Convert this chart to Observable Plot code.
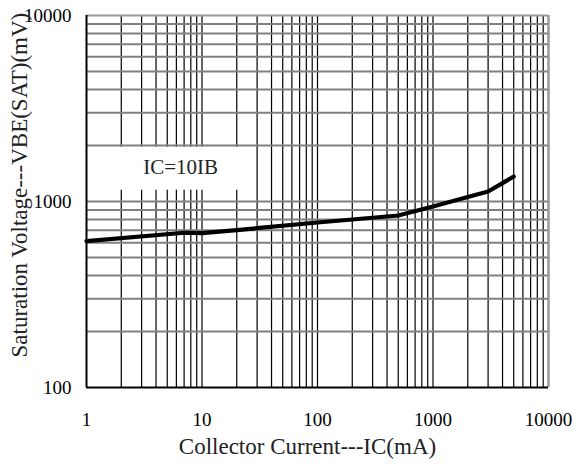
<!DOCTYPE html>
<html>
<head>
<meta charset="utf-8">
<script src="https://cdn.jsdelivr.net/npm/d3@7"></script>
<script src="https://cdn.jsdelivr.net/npm/@observablehq/plot@0.6"></script>
<style>
  html, body { margin: 0; padding: 0; background: #fff; }
  #chart svg { display: block; }
</style>
</head>
<body>
<div id="chart"></div>
<script>
// Curve: collector current (mA) vs VBE(SAT) (mV), IC = 10 IB
const currentMA = [1, 7, 10, 20, 100, 200, 500, 1000, 2000, 3000, 5000];
const vbeSatMV  = [612, 679, 676, 702, 771, 800, 841, 940, 1057, 1132, 1362];

// Axis tick labels
const xTickValues = [1, 10, 100, 1000, 10000];
const yTickValues = [100, 1000, 10000];

// Log grid lines
const xGridValues = [2, 3, 4, 5, 6, 7, 8, 9,
  10, 20, 30, 40, 50, 60, 70, 80, 90,
  100, 200, 300, 400, 500, 600, 700, 800, 900,
  1000, 2000, 3000, 4000, 5000, 6000, 7000, 8000, 9000];
const yGridValues = [200, 300, 400, 500, 600, 700, 800, 900,
  1000, 2000, 3000, 4000, 5000, 6000, 7000, 8000, 9000];

// Annotation
const noteText = ["IC=10IB"];
const noteX = [3.1];
const noteY = [1414];
const noteBoxX = [1, 25];
const noteBoxY = [1150, 1960];

const xTitle = "Collector Current---IC(mA)";
const yTitle = "Saturation Voltage---VBE(SAT)(mV)";

const curve = currentMA.map((x, i) => ({x, y: vbeSatMV[i]}));
const note = noteText.map((t, i) => ({t, x: noteX[i], y: noteY[i]}));
const noteBox = [{x1: noteBoxX[0], x2: noteBoxX[1], y1: noteBoxY[0], y2: noteBoxY[1]}];

const chart = Plot.plot({
  width: 576,
  height: 466,
  marginTop: 15,
  marginBottom: 79,
  marginLeft: 86,
  marginRight: 28,
  style: {fontFamily: "'Liberation Serif', 'Times New Roman', serif", background: "#fff", color: "#000"},
  x: {type: "log", domain: [1, 10000]},
  y: {type: "log", domain: [100, 10000]},
  marks: [
    Plot.ruleX(xGridValues, {stroke: "#000", strokeWidth: 1.2}),
    Plot.rect(noteBox, {x1: "x1", x2: "x2", y1: "y1", y2: "y2", fill: "#fff"}),
    Plot.ruleY(yGridValues, {stroke: "#808080", strokeWidth: 2}),
    Plot.ruleY([yTickValues[2]], {stroke: "#9a9a9a", strokeWidth: 2}),
    Plot.ruleX([xTickValues[4]], {stroke: "#9a9a9a", strokeWidth: 2.5}),
    Plot.ruleY([yTickValues[0]], {stroke: "#000", strokeWidth: 2}),
    Plot.ruleX([xTickValues[0]], {stroke: "#000", strokeWidth: 2}),
    Plot.line(curve, {x: "x", y: "y", stroke: "#000", strokeWidth: 4.2, strokeLinejoin: "round"}),
    Plot.text(note, {x: "x", y: "y", text: "t", textAnchor: "start", lineAnchor: "bottom", fontSize: 21, fill: "#222"}),
    Plot.axisX({ticks: xTickValues, tickSize: 0, tickPadding: 25, tickFormat: d => String(d), fontSize: 19, label: null}),
    Plot.axisY({ticks: yTickValues, tickSize: 0, tickPadding: 15, tickFormat: d => String(d), fontSize: 19, label: null}),
    Plot.text([xTitle], {frameAnchor: "bottom", dx: -10, dy: 66, lineAnchor: "bottom", fontSize: 23, fill: "#222"}),
    Plot.text([yTitle], {frameAnchor: "bottom-left", dx: -60, dy: -30, rotate: -90, textAnchor: "start", lineAnchor: "bottom", fontSize: 23, fill: "#222"})
  ]
});
document.getElementById("chart").appendChild(chart);
</script>
</body>
</html>
